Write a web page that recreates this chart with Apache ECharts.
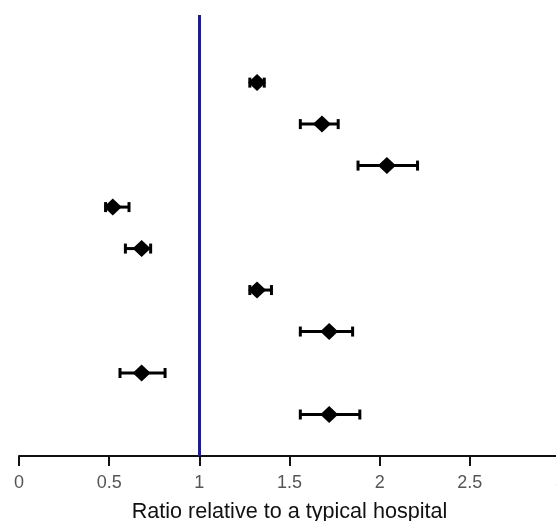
<!DOCTYPE html>
<html><head><meta charset="utf-8">
<script src="https://cdn.jsdelivr.net/npm/echarts@6/dist/echarts.min.js"></script>
<style>html,body{margin:0;padding:0;background:#fff}#c{width:556px;height:521px}</style>
</head><body><div id="c"></div>
<script>
const rows = [9, 8, 7, 6, 5, 4, 3, 2, 1];
const estimate = [1.32, 1.68, 2.04, 0.52, 0.68, 1.32, 1.72, 0.68, 1.72];
const lower = [1.28, 1.56, 1.88, 0.48, 0.59, 1.28, 1.56, 0.56, 1.56];
const upper = [1.36, 1.77, 2.21, 0.61, 0.73, 1.40, 1.85, 0.81, 1.89];
const xTicks = [0, 0.5, 1, 1.5, 2, 2.5, 3];
const refValue = 1;

const chart = echarts.init(document.getElementById('c'));
const errData = rows.map((r, i) => [lower[i], upper[i], r]);
const ptData = rows.map((r, i) => [estimate[i], r]);
chart.setOption({
  animation: false,
  grid: {left: 19, width: 541, top: 15, bottom: 65, outerBoundsMode: 'none', containLabel: false},
  xAxis: {
    type: 'value', min: xTicks[0], max: xTicks[xTicks.length - 1], interval: 0.5,
    axisLine: {show: true, onZero: false, lineStyle: {color: '#111', width: 2}},
    axisTick: {show: true, length: 10, lineStyle: {color: '#111', width: 2}},
    axisLabel: {color: '#555', fontSize: 18, fontFamily: 'Liberation Sans', margin: 18,
      showMaxLabel: true, hideOverlap: false, formatter: v => String(v)},
    splitLine: {show: false},
    name: 'Ratio relative to a typical hospital', nameLocation: 'middle', nameGap: 45,
    nameTextStyle: {color: '#111', fontSize: 21.6, fontFamily: 'Liberation Sans'}
  },
  yAxis: {type: 'value', min: 0, max: 10.63, show: false},
  series: [
    {
      type: 'line', data: [], symbol: 'none',
      markLine: {silent: true, symbol: 'none', label: {show: false},
        lineStyle: {color: '#1c1c8c', width: 3, type: 'solid'},
        data: [{xAxis: refValue}]}
    },
    {
      type: 'custom', data: errData, z: 3,
      renderItem: function (params, api) {
        const a = api.coord([api.value(0), api.value(2)]);
        const b = api.coord([api.value(1), api.value(2)]);
        const h = 5;
        const st = {stroke: '#000', lineWidth: 3};
        return {type: 'group', children: [
          {type: 'line', shape: {x1: a[0], y1: a[1], x2: b[0], y2: b[1]}, style: st},
          {type: 'line', shape: {x1: a[0], y1: a[1] - h, x2: a[0], y2: a[1] + h}, style: st},
          {type: 'line', shape: {x1: b[0], y1: b[1] - h, x2: b[0], y2: b[1] + h}, style: st}
        ]};
      }
    },
    {
      type: 'scatter', data: ptData, symbol: 'diamond', symbolSize: [18, 17], z: 4,
      itemStyle: {color: '#000', opacity: 1}
    }
  ]
});
</script></body></html>
